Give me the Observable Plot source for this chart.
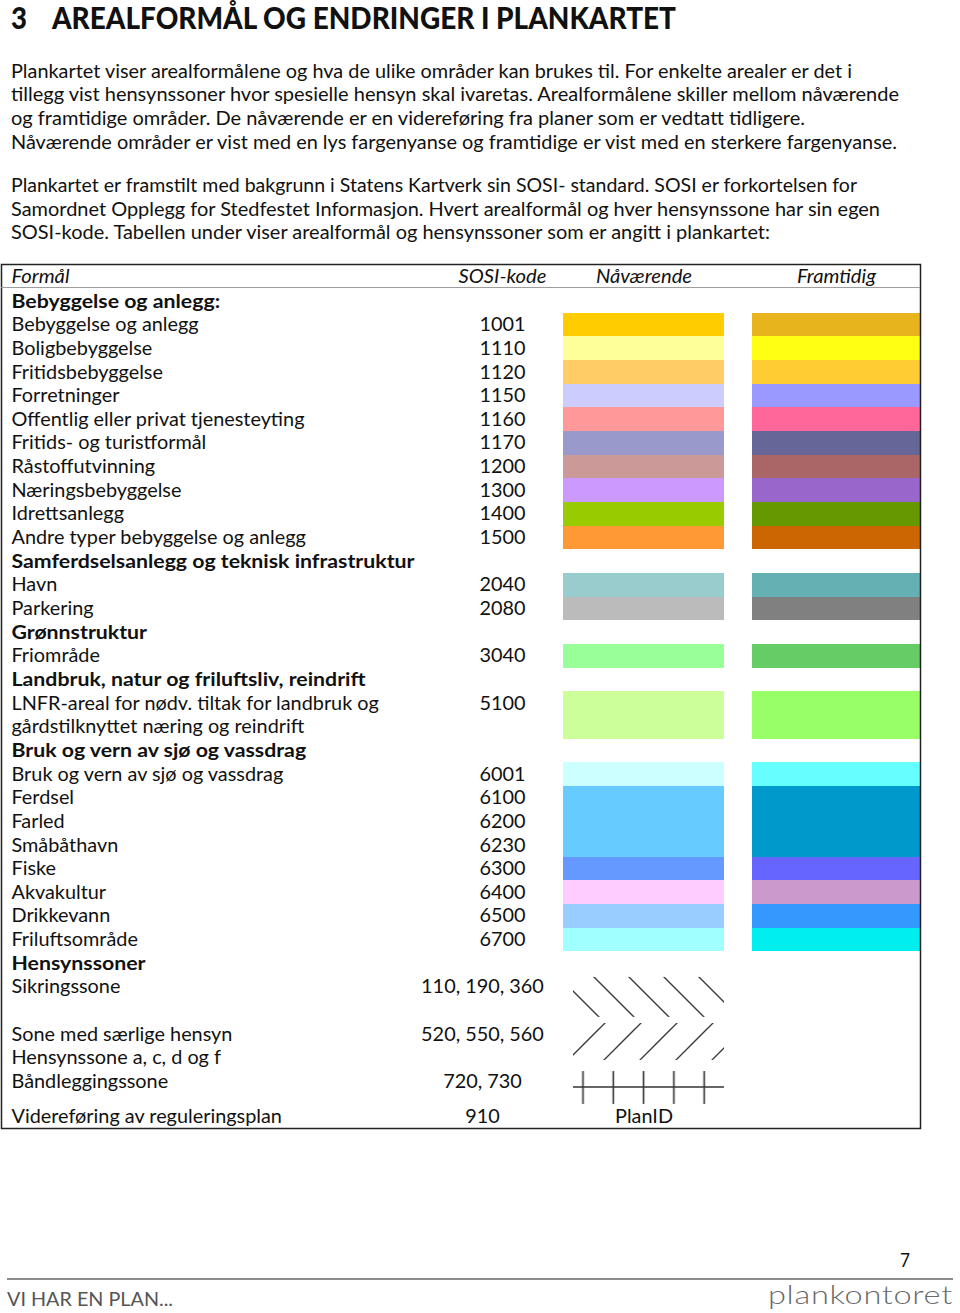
<!DOCTYPE html>
<html><head><meta charset="utf-8">
<script src="https://cdn.jsdelivr.net/npm/d3@7"></script>
<script src="https://cdn.jsdelivr.net/npm/@observablehq/plot@0.6"></script>
<style>
html,body{margin:0;padding:0;background:#fff;}
#page{position:relative;width:960px;height:1313px;overflow:hidden;font-family:Lato,"Open Sans",sans-serif;color:#111;}
.ln{position:absolute;left:0;top:0;display:inline-block;white-space:nowrap;transform-origin:0 0;line-height:normal;}
#table{position:absolute;left:0;top:255px;}
#rule{position:absolute;left:7px;top:1278px;width:946px;height:2px;background:#8c8c8c;}
</style></head>
<body>
<svg width="0" height="0" style="position:absolute">
<defs>
<pattern id="sikring" patternUnits="userSpaceOnUse" width="35" height="35" patternTransform="translate(12,0)">
  <path d="M0,0L35,35M-5,30L5,40M30,-5L40,5" stroke="#3a3a3a" stroke-width="1.4" fill="none"/>
</pattern>
<pattern id="saerlig" patternUnits="userSpaceOnUse" width="36" height="36" patternTransform="translate(5,0)">
  <path d="M0,36L36,0M-5,5L5,-5M31,41L41,31" stroke="#3a3a3a" stroke-width="1.4" fill="none"/>
</pattern>
<pattern id="band" patternUnits="userSpaceOnUse" width="30.3" height="200">
  <path d="M7.3,0V200M0,32H30.3" stroke="#333" stroke-width="1.6" fill="none"/>
</pattern>
</defs></svg>
<div id="page"><div id="rule"></div></div>
<script>
// ---------- data ----------
const headers = ["Formål", "SOSI-kode", "Nåværende", "Framtidig"];
const labels = [
  "Bebyggelse og anlegg:",
  "Bebyggelse og anlegg",
  "Boligbebyggelse",
  "Fritidsbebyggelse",
  "Forretninger",
  "Offentlig eller privat tjenesteyting",
  "Fritids- og turistformål",
  "Råstoffutvinning",
  "Næringsbebyggelse",
  "Idrettsanlegg",
  "Andre typer bebyggelse og anlegg",
  "Samferdselsanlegg og teknisk infrastruktur",
  "Havn",
  "Parkering",
  "Grønnstruktur",
  "Friområde",
  "Landbruk, natur og friluftsliv, reindrift",
  "LNFR-areal for nødv. tiltak for landbruk og",
  "gårdstilknyttet næring og reindrift",
  "Bruk og vern av sjø og vassdrag",
  "Bruk og vern av sjø og vassdrag",
  "Ferdsel",
  "Farled",
  "Småbåthavn",
  "Fiske",
  "Akvakultur",
  "Drikkevann",
  "Friluftsområde",
  "Hensynssoner",
  "Sikringssone",
  "",
  "Sone med særlige hensyn",
  "Hensynssone a, c, d og f",
  "Båndleggingssone",
  "Videreføring av reguleringsplan"
];
const groupHeaders = [0, 11, 14, 16, 19, 28];
const sosiKoder = [
  "", "1001", "1110", "1120", "1150", "1160", "1170", "1200", "1300", "1400", "1500",
  "", "2040", "2080", "", "3040", "", "5100", "", "",
  "6001", "6100", "6200", "6230", "6300", "6400", "6500", "6700",
  "", "110, 190, 360", "", "520, 550, 560", "", "720, 730", "910"
];
const naavaerende = [
  null, "#FFCC00", "#FFFF99", "#FFCC66", "#CCCCFF", "#FF9999", "#9999CC", "#CC9999", "#CC99FF", "#99CC00", "#FF9933",
  null, "#99CCCC", "#BBBBBB", null, "#99FF99", null, "#CCFF99", "#CCFF99", null,
  "#CCFFFF", "#66CCFF", "#66CCFF", "#66CCFF", "#6699FF", "#FFCCFF", "#99CCFF", "#A0FFFF",
  null, null, null, null, null, null, null
];
const framtidig = [
  null, "#E8B41E", "#FFFF14", "#FFCC33", "#9999FF", "#FF6699", "#666699", "#AA6666", "#9966CC", "#669900", "#CC6600",
  null, "#64B0B2", "#808080", null, "#66CC66", null, "#99FF66", "#99FF66", null,
  "#66FFFF", "#0099CC", "#0099CC", "#0099CC", "#6666FF", "#CC99CC", "#3399FF", "#00EEEE",
  null, null, null, null, null, null, null
];
// hensynssone signatures (pattern names) and plan-reference text, by row
const hensynTegn = {29: "sikring", 31: "saerlig", 33: "band"};
const planRef = {34: "PlanID"};

// ---------- layout ----------
const ROW_H = 23.65, ROW0 = 46;
const colFormal = 11, colSosi4 = 502, colSosiN = 482, colNaa = [563, 724], colFram = [752, 920], colHatch = [573, 724];
const tegnExtent = {sikring: [-0.42, 1.27], saerlig: [-0.47, 1.09], band: [-0.44, 0.95]};
const headerRow = -1.06, headerRuleRow = -0.59;

const rows = labels.map((label, i) => ({
  i, label,
  code: sosiKoder[i],
  now: naavaerende[i],
  future: framtidig[i],
  group: groupHeaders.includes(i),
  tegn: hensynTegn[i] || null,
  ref: planRef[i] || null,
  pos: i + (i === 34 ? 0.46 : 0)
}));

const FONT = "Lato, 'Open Sans', sans-serif";
const FS = 19;

const chart = Plot.plot({
  width: 960, height: 885,
  marginTop: 9, marginBottom: 12, marginLeft: 1, marginRight: 40,
  x: {domain: [0, 960], range: [0, 960], axis: null},
  y: {domain: [0, 34], range: [ROW0, ROW0 + 34 * ROW_H], axis: null},
  color: {type: "identity"},
  style: {fontFamily: FONT, color: "#111", background: "white", overflow: "visible"},
  marks: [
    Plot.rect(rows.filter(d => d.now), {x1: colNaa[0], x2: colNaa[1], y1: d => d.pos - 0.5, y2: d => d.pos + 0.5, fill: "now", shapeRendering: "crispEdges"}),
    Plot.rect(rows.filter(d => d.future), {x1: colFram[0], x2: colFram[1], y1: d => d.pos - 0.5, y2: d => d.pos + 0.5, fill: "future", shapeRendering: "crispEdges"}),
    Plot.rect(rows.filter(d => d.tegn), {x1: colHatch[0], x2: colHatch[1], y1: d => d.pos + tegnExtent[d.tegn][0], y2: d => d.pos + tegnExtent[d.tegn][1], fill: d => `url(#${d.tegn})`}),
    Plot.frame({stroke: "#222", strokeWidth: 1.5}),
    Plot.ruleY([headerRuleRow], {x1: 1, x2: 920, stroke: "#9a9a9a", strokeWidth: 1}),
    Plot.text([headers[0]], {x: colFormal, y: headerRow, text: d => d, textAnchor: "start", fontSize: FS, fontStyle: "italic"}),
    Plot.text(headers.slice(1), {x: (d, i) => [colSosi4, (colNaa[0] + colNaa[1]) / 2, (colFram[0] + colFram[1]) / 2][i], y: headerRow, text: d => d, fontSize: FS, fontStyle: "italic"}),
    Plot.text(rows.filter(d => d.label && !d.group), {x: colFormal, y: "pos", text: "label", textAnchor: "start", fontSize: FS}),
    Plot.text(rows.filter(d => d.group), {x: colFormal, y: "pos", text: "label", textAnchor: "start", fontSize: FS, fontWeight: "bold"}),
    Plot.text(rows.filter(d => d.code), {x: d => d.code.length === 4 ? colSosi4 : colSosiN, y: "pos", text: "code", fontSize: FS}),
    Plot.text(rows.filter(d => d.ref), {x: (colNaa[0] + colNaa[1]) / 2, y: "pos", text: "ref", fontSize: FS})
  ]
});

const page = document.getElementById("page");
const holder = document.createElement("div");
holder.id = "table";
holder.appendChild(chart);
page.appendChild(holder);

// condense table text to the reference widths (Myriad-like proportions)
function kind(t) {
  const st = getComputedStyle(t);
  if (st.fontStyle === "italic") return "hode";
  if (parseInt(st.fontWeight) >= 600) return "fet";
  return "normal";
}
const allTexts = [...chart.querySelectorAll("text")];
const refs = {normal: ["Offentlig eller privat tjenesteyting", 293], fet: ["Samferdselsanlegg og teknisk infrastruktur", 403], hode: ["Nåværende", 96]};
const factors = {};
for (const k in refs) {
  const t = allTexts.find(t => t.textContent === refs[k][0] && kind(t) === k);
  factors[k] = t ? refs[k][1] / t.getComputedTextLength() : 1;
}
allTexts.forEach(t => {
  const f = factors[kind(t)];
  const L = t.getComputedTextLength();
  if (L > 0) {
    t.setAttribute("textLength", (L * f).toFixed(2));
    t.setAttribute("lengthAdjust", "spacingAndGlyphs");
  }
});

// ---------- page text ----------
function line(text, x, baseline, style, width, anchor) {
  const d = document.createElement("div");
  d.className = "ln";
  Object.assign(d.style, style);
  d.appendChild(document.createTextNode(text));
  const m = document.createElement("span");
  m.style.cssText = "display:inline-block;width:0;height:0;vertical-align:baseline";
  d.appendChild(m);
  page.appendChild(d);
  const dr = d.getBoundingClientRect(), mr = m.getBoundingClientRect();
  const baseOff = mr.bottom - dr.top;
  const w = dr.width;
  const s = width ? width / w : 1;
  const finalW = w * s;
  let left = x;
  if (anchor === "end") left = x - finalW;
  if (anchor === "middle") left = x - finalW / 2;
  d.style.left = left + "px";
  d.style.top = (baseline - baseOff) + "px";
  d.style.transform = `scaleX(${s})`;
  return d;
}
const titleStyle = {fontSize: "30px", fontWeight: "900", color: "#111"};
line("3", 11, 29, titleStyle, 16);
line("AREALFORMÅL OG ENDRINGER I PLANKARTET", 52, 29, titleStyle, 624);

const para = {fontSize: "18.5px", color: "#111"};
const paraLines = [
  ["Plankartet viser arealformålene og hva de ulike områder kan brukes til. For enkelte arealer er det i", 77.7, 841],
  ["tillegg vist hensynssoner hvor spesielle hensyn skal ivaretas. Arealformålene skiller mellom nåværende", 101.4, 888],
  ["og framtidige områder. De nåværende er en videreføring fra planer som er vedtatt tidligere.", 125.1, 794],
  ["Nåværende områder er vist med en lys fargenyanse og framtidige er vist med en sterkere fargenyanse.", 148.8, 886],
  ["Plankartet er framstilt med bakgrunn i Statens Kartverk sin SOSI- standard. SOSI er forkortelsen for", 192.0, 846],
  ["Samordnet Opplegg for Stedfestet Informasjon. Hvert arealformål og hver hensynssone har sin egen", 215.7, 869],
  ["SOSI-kode. Tabellen under viser arealformål og hensynssoner som er angitt i plankartet:", 239.4, 759]
];
paraLines.forEach(([t, b, w]) => line(t, 11, b, para, w));

line("7", 905, 1267, {fontSize: "20px", color: "#111"}, 10, "middle");
line("VI HAR EN PLAN...", 7, 1306, {fontSize: "19.5px", color: "#555"}, 166);
line("plankontoret", 953, 1304, {fontSize: "25px", fontWeight: "300", color: "#6a6a6a", letterSpacing: "0.5px"}, 185, "end");
</script>
</body></html>
